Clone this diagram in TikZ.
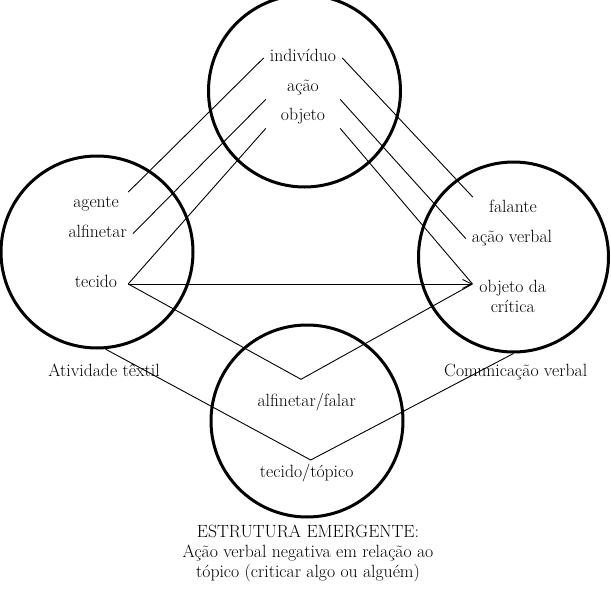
\documentclass[tikz,border=0pt]{standalone}
\usepackage{tikz}
\usetikzlibrary{arrows.meta}
\newcommand{\figfont}{\fontsize{17.7}{20}\selectfont}
\tikzset{every picture/.append style={font=\figfont}}

\begin{document}
\begin{tikzpicture}[x=1pt,y=-1pt,
    ring/.style={circle,draw,line width=3pt,inner sep=0pt},
    lbl/.style={inner xsep=6pt,inner ysep=3pt,text height=12pt,text depth=4.5pt,minimum width=#1,anchor=base},
    txt/.style={anchor=base,align=center},
    lnk/.style={line width=0.9pt},
    >={Straight Barb[length=9pt,width=9pt]}]
    \useasboundingbox (0,0) rectangle (611,597);
    \node[ring,minimum size=192pt] (generico) at (304.5,91) {};
    \node[ring,minimum size=192pt] (textil) at (97,252) {};
    \node[ring,minimum size=190pt] (verbal) at (513.5,257) {};
    \node[ring,minimum size=192pt] (mescla) at (307,421) {};
    \node[lbl=74pt] (individuo) at (303,61.7) {indivíduo};
    \node[lbl=74pt] (acao) at (303,91.7) {ação};
    \node[lbl=74pt] (objeto) at (303,120.7) {objeto};
    \node[lbl=64pt] (agente) at (96,207.3) {agente};
    \node[lbl=64pt] (alfinetar) at (97.7,237.3) {alfinetar};
    \node[lbl=64pt] (tecido) at (96,287.7) {tecido};
    \node[lbl=80pt] (falante) at (513,212.3) {falante};
    \node[lbl=80pt] (acaoverbal) at (512,242.3) {ação verbal};
    \node[txt,inner xsep=6pt,minimum width=80pt] (objda) at (512.7,312.7) {objeto da\\crítica};
    \node[txt] (atividade) at (104,376.7) {Atividade têxtil};
    \node[txt] (comunicacao) at (515.7,376) {Comunicação verbal};
    \node[txt] (alffalar) at (306.7,406.7) {alfinetar/falar};
    \node[txt] (tectopico) at (306.7,477.3) {tecido/tópico};
    \node[txt] (estrutura) at (308,577.3) {ESTRUTURA EMERGENTE:\\Ação verbal negativa em relação ao\\tópico (criticar algo ou alguém)};
    % projections
    \coordinate (tip) at (tecido.east -| objda.west);
    \coordinate (v1) at (301,379.3);
    \coordinate (v2) at (310.7,460);
    \draw[lnk] (individuo.west) -- (agente.north east);
    \draw[lnk] (acao.south west) -- (alfinetar.east);
    \draw[lnk] (objeto.south west) -- (tecido.east);
    \draw[lnk] (individuo.east) -- (falante.north west);
    \draw[lnk] (acao.south east) -- (acaoverbal.west);
    \draw[lnk] (objeto.south east) -- (tip);
    \draw[lnk,->] (tecido.east) -- (tip);
    \draw[lnk] (tecido.east) -- (v1) -- (tip);
    \draw[lnk] (textil.-85) -- (v2) -- (verbal.south);
\end{tikzpicture}
\end{document}
